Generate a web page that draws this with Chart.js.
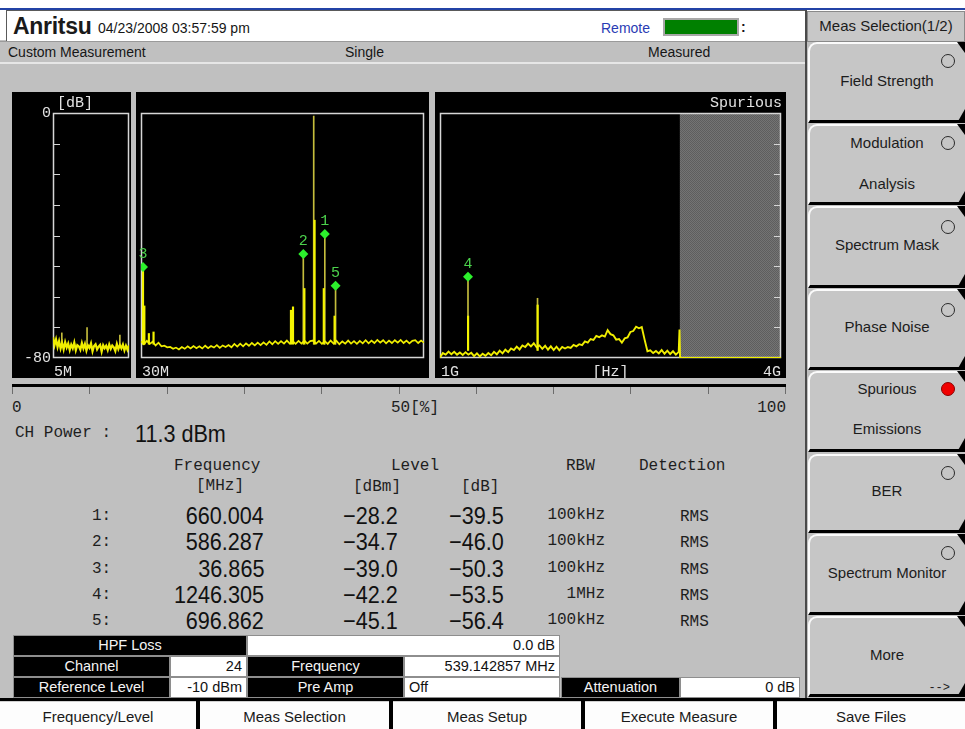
<!DOCTYPE html>
<html>
<head>
<meta charset="utf-8">
<title>Spurious Emissions</title>
<script src="https://cdn.jsdelivr.net/npm/chart.js"></script>
<style>
html,body{margin:0;padding:0}
body{width:965px;height:729px;position:relative;overflow:hidden;background:#c0c0c0;font-family:"Liberation Sans",Arial,sans-serif;color:#161616}
.a{position:absolute;white-space:nowrap}
.m{font-family:"Liberation Mono","DejaVu Sans Mono",monospace;font-size:16px;color:#1e1e1e}
.s14{font-size:14px}
.s15{font-size:15px;color:#1c1c1c}
.big{font-size:24px;color:#111}
canvas{position:absolute}
.btn{position:absolute;left:808px;width:157px;background:#c6c6c6;border-top:2px solid #fbfbfb;border-left:2px solid #fbfbfb;border-top-left-radius:9px;border-bottom:3px solid #000;box-sizing:border-box}
.btn:before{content:"";position:absolute;right:0;top:-2px;width:8px;height:11px;background:#000;clip-path:polygon(0 0,100% 0,100% 100%)}
.btn:after{content:"";position:absolute;right:0;bottom:-3px;width:8px;height:14px;background:#000;clip-path:polygon(100% 0,100% 100%,0 100%)}
.radio{position:absolute;width:12px;height:12px;border:1px solid #2a2a2a;border-radius:50%}
.cell{position:absolute;box-sizing:border-box;border:1px solid #8e8e8e;font-size:14.5px;padding:0 4px}
.dark{background:#000;color:#f4f4f4;text-align:center}
.lite{background:#fff;color:#111}
.bb{position:absolute;top:701px;height:28px;background:#fdfdfd;border-top:1px solid #d0d0d0;box-sizing:border-box;text-align:center;line-height:29px;font-size:15px;color:#1a1a1a}
</style>
</head>
<body>
<div class="a" style="left:0;top:0;width:965px;height:40px;background:#fff"></div>
<div class="a" style="left:0;top:8px;width:965px;height:2px;background:#2343a6"></div>
<div class="a" style="left:6px;top:10px;width:799px;height:31px;background:#fff;border-left:1px solid #5a5a5a;border-top:1px solid #5a5a5a;box-sizing:border-box"></div>
<div class="a" style="left:0;top:41px;width:806px;height:23px;background:#c0c0c0;border-top:1px solid #9a9a9a;border-bottom:2px solid #e6e6e6;box-sizing:border-box"></div>
<div class="a" style="left:663px;top:18px;width:76px;height:18px;background:#008000;border:2px solid #a8a8a8;box-sizing:border-box"></div>
<div class="a" style="left:805px;top:10px;width:2px;height:690px;background:#4a4a4a"></div>
<div class="a" style="left:807px;top:11px;width:158px;height:31px;background:#c8c8c8;border:1px solid #8a8a8a;box-sizing:border-box"></div>

<canvas id="c1" width="119" height="286" style="left:12px;top:92px"></canvas>
<canvas id="c2" width="293" height="286" style="left:136px;top:92px"></canvas>
<canvas id="c3" width="351" height="286" style="left:435px;top:92px"></canvas>

<div class="a" style="left:12px;top:384px;width:774px;height:3px;background:#000"></div>
<div class="a" style="left:0;top:698px;width:965px;height:31px;background:#000"></div>

<script>
// ---- trace data, 5 MHz .. 30 MHz (relative level, dB)
const p1Freq = [5,5.5,6,6.5,7,7.5,8,8.5,9,9.5,10,10.5,11,11.5,12,12.5,13,13.5,14,14.5,
  15,15.5,16,16.5,17,17.5,18,18.5,19,19.5,20,20.5,21,21.5,22,22.5,23,23.5,24,24.5,
  25,25.5,26,26.5,27,27.5,28,28.5,29,29.5,30];
const p1Level = [-73.2,-75.8,-73.9,-76.4,-74.5,-76.9,-75.1,-77.2,-74.8,-76.6,
  -75.3,-77.4,-75.6,-76.8,-74.9,-77.5,-75.8,-76.2,-77.3,-75.1,
  -76.9,-75.4,-77.6,-75.9,-76.7,-75.2,-77.8,-76.1,-75.5,-77.2,
  -76.3,-75.7,-77.9,-75.8,-76.8,-76.0,-77.4,-75.6,-77.0,-75.9,
  -76.5,-77.7,-75.4,-77.1,-75.8,-76.9,-75.6,-77.5,-76.0,-77.3,-75.9];
const p1PeakFreq = [7.9, 16.2, 27.0];
const p1PeakTop = [-71.8, -70.1, -72.5];

// ---- 30 MHz .. 1000 MHz
const p2Freq = [30,40,50,60,70,80,90,100,110,120,
  130,140,150,160,170,180,190,200,210,220,
  230,240,250,260,270,280,290,300,310,320,
  330,340,350,360,370,380,390,400,410,420,
  430,440,450,460,470,480,490,500,510,520,
  530,540,550,560,570,580,590,600,610,620,
  630,640,650,660,670,680,690,700,710,720,
  730,740,750,760,770,780,790,800,810,820,
  830,840,850,860,870,880,890,900,910,920,
  930,940,950,960,970,980,990,1000];
const p2Level = [-74.5,-75.5,-74.4,-75.4,-74.7,-75.9,-75.0,-76.2,-76.0,-76.5,
  -76.4,-77.0,-76.6,-77.2,-76.4,-77.0,-76.2,-76.9,-76.1,-76.8,
  -76.2,-76.9,-76.0,-76.8,-76.1,-76.6,-75.8,-76.7,-75.9,-76.4,
  -75.8,-76.5,-75.4,-76.3,-75.3,-76.2,-75.2,-76.0,-75.1,-75.9,
  -75.0,-75.8,-74.9,-75.7,-74.6,-75.5,-74.5,-75.4,-74.5,-75.3,
  -74.3,-75.3,-74.5,-75.4,-74.4,-75.3,-74.3,-75.3,-74.5,-74.3,
  -75.3,-74.4,-75.4,-74.5,-75.4,-74.3,-75.3,-74.4,-75.5,-74.6,
  -75.3,-74.3,-75.3,-74.5,-75.4,-74.4,-75.2,-74.2,-75.2,-74.3,
  -75.1,-74.1,-75.0,-74.2,-75.2,-74.3,-75.1,-74.2,-75.0,-74.1,
  -75.1,-74.3,-75.2,-74.4,-74.2,-75.1,-74.3,-75.0];
const p2PeakFreq = [36.865, 586.287, 622, 660.004, 696.862];
const p2PeakTop = [-50.3, -46.0, -1.0, -39.5, -56.4];
const p2LiveFreq = [36.9, 41.5, 57, 73, 544, 551, 590, 625, 656.5, 693.5];
const p2LiveTop = [-50.3, -63.0, -72.0, -71.5, -64.4, -63.3, -57.3, -35.0, -57.3, -66.3];

// ---- 1 GHz .. 4 GHz (MHz)
const p3Freq = [1000,1025,1050,1075,1100,1125,1150,1175,1200,1225,
  1250,1275,1300,1325,1350,1375,1400,1425,1450,1475,
  1500,1525,1550,1575,1600,1625,1650,1675,1700,1725,
  1750,1775,1800,1825,1850,1875,1900,1925,1950,1975,
  2000,2025,2050,2075,2100,2125,2150,2175,2200,2225,
  2250,2275,2300,2325,2350,2375,2400,2425,2450,2475,
  2500,2525,2550,2575,2600,2625,2650,2675,2700,2725,
  2750,2775,2800,2825,2850,2875,2900,2925,2950,2975,
  3000,3025,3050,3075,3100,3107,3112,4000];
const p3Level = [-79.8,-78.4,-78.9,-77.9,-78.8,-78.0,-78.9,-78.2,-79.0,-78.1,
  -78.9,-78.3,-79.4,-78.5,-79.5,-78.6,-79.3,-78.4,-79.1,-78.0,
  -78.8,-77.6,-78.5,-77.3,-78.1,-76.9,-77.4,-76.3,-77.2,-75.9,
  -76.4,-75.3,-76.2,-75.2,-76.5,-75.9,-77.0,-76.0,-77.3,-76.2,
  -77.4,-76.3,-77.5,-76.4,-76.9,-76.4,-76.7,-75.7,-76.2,-75.5,
  -75.8,-74.6,-75.0,-73.8,-74.1,-72.8,-73.2,-72.6,-73.0,-70.9,
  -72.2,-72.6,-74.0,-73.8,-75.0,-73.6,-73.3,-71.5,-71.2,-69.8,
  -70.3,-69.9,-74.0,-77.8,-77.5,-78.4,-77.7,-78.5,-77.4,-78.6,
  -77.6,-78.7,-77.8,-78.9,-78.0,-70.7,-80.0,-80.0];
const p3PeakFreq = [1246.305, 1858];
const p3PeakTop = [-53.5, -60.5];
const p3LiveFreq = [1247, 1859];
const p3LiveTop = [-66.3, -62.7];
const p3SweepStop = 3110;

// ---- markers / result table
const markerFreq = [660.004, 586.287, 36.865, 1246.305, 696.862];
const markerDbm = [-28.2, -34.7, -39.0, -42.2, -45.1];
const markerDb = [-39.5, -46.0, -50.3, -53.5, -56.4];
const markerRbw = ['100kHz', '100kHz', '100kHz', '1MHz', '100kHz'];
const markerDet = ['RMS', 'RMS', 'RMS', 'RMS', 'RMS'];
const chPower = 11.3;
const dbTicks = [0, -10, -20, -30, -40, -50, -60, -70, -80];

function put(s, x, cy, cls, al, h) {
  const d = document.createElement('div');
  h = h || 22;
  d.className = 'a ' + (cls || '');
  d.textContent = s;
  d.style.top = (cy - h / 2) + 'px';
  d.style.height = h + 'px';
  d.style.lineHeight = h + 'px';
  if (al === 'r') { d.style.right = (965 - x) + 'px'; d.style.transformOrigin = 'right center'; }
  else if (al === 'c') { d.style.left = x + 'px'; d.style.transform = 'translateX(-50%)'; }
  else { d.style.left = x + 'px'; d.style.transformOrigin = 'left center'; }
  document.body.appendChild(d);
  return d;
}
const minus = v => (v < 0 ? '\u2212' : '') + Math.abs(v).toFixed(1);

// hatched pattern for the unswept part
const pc = document.createElement('canvas');
pc.width = 2; pc.height = 2;
const pcx = pc.getContext('2d');
pcx.fillStyle = '#5e5e5e'; pcx.fillRect(0, 0, 2, 2);
pcx.fillStyle = '#747474'; pcx.fillRect(0, 0, 1, 1); pcx.fillRect(1, 1, 1, 1);

const deco = {
  id: 'deco',
  beforeDatasetsDraw(chart, args, o) {
    const ctx = chart.ctx, a = chart.chartArea, x = chart.scales.x, y = chart.scales.y;
    ctx.save();
    if (o.sweepStop) {
      const xs = x.getPixelForValue(o.sweepStop);
      ctx.fillStyle = ctx.createPattern(pc, 'repeat');
      ctx.fillRect(xs, a.top, a.right - xs, a.bottom - a.top);
    }
    ctx.strokeStyle = '#d6d6d6';
    ctx.lineWidth = 1.5;
    ctx.strokeRect(a.left + 0.5, a.top + 0.5, a.right - a.left - 1, a.bottom - a.top - 1);
    ctx.lineWidth = 1;
    dbTicks.slice(1, -1).forEach(v => {
      const py = Math.round(y.getPixelForValue(v)) + 0.5;
      ctx.beginPath();
      if (o.ticks === 'left') { ctx.moveTo(a.left, py); ctx.lineTo(a.left + 7, py); }
      if (o.ticks === 'right') { ctx.moveTo(a.right - 7, py); ctx.lineTo(a.right, py); }
      ctx.stroke();
    });
    ctx.fillStyle = '#e2e2e2';
    ctx.font = '15px "Liberation Mono", "DejaVu Sans Mono", monospace';
    ctx.textBaseline = 'middle';
    const ty = a.bottom + 14, hy = a.top - 10;
    if (o.yLabels) {
      ctx.textAlign = 'right';
      ctx.fillText(String(dbTicks[0]), a.left - 2, y.getPixelForValue(dbTicks[0]));
      ctx.fillText(String(dbTicks[dbTicks.length - 1]), a.left - 2, y.getPixelForValue(dbTicks[dbTicks.length - 1]));
    }
    if (o.tl) { ctx.textAlign = 'left'; ctx.fillText(o.tl, a.left + 4, hy); }
    if (o.tr) { ctx.textAlign = 'right'; ctx.fillText(o.tr, a.right + 1, hy); }
    if (o.bl) { ctx.textAlign = 'left'; ctx.fillText(o.bl, a.left + 1, ty); }
    if (o.bc) { ctx.textAlign = 'center'; ctx.fillText(o.bc, (a.left + a.right) / 2, ty); }
    if (o.br) { ctx.textAlign = 'right'; ctx.fillText(o.br, a.right, ty); }
    ctx.restore();
  },
  afterDatasetsDraw(chart) {
    const ctx = chart.ctx, meta = chart.getDatasetMeta(0);
    ctx.save();
    ctx.fillStyle = '#4cd24c';
    ctx.font = '15px "Liberation Mono", "DejaVu Sans Mono", monospace';
    ctx.textAlign = 'center';
    ctx.textBaseline = 'middle';
    meta.data.forEach((pt, i) => {
      ctx.fillText(String(chart.data.datasets[0].data[i].n), pt.x, pt.y - 13);
    });
    ctx.restore();
  }
};

const pts = (xs, ys) => xs.map((v, i) => ({x: v, y: ys[i]}));
const spikes = (xs, tops, base) => xs.map((v, i) => ({x: v, y: [base, tops[i]]}));

function panel(id, c) {
  const mk = markerFreq.map((f, i) => ({x: f, y: markerDb[i], n: i + 1}))
    .filter(p => p.x >= c.xMin && p.x <= c.xMax);
  return new Chart(document.getElementById(id), {
    type: 'line',
    data: {
      datasets: [
        {type: 'scatter', data: mk, pointStyle: 'rectRot', pointRadius: 5,
          backgroundColor: '#2cf02c', borderColor: '#2cf02c', borderWidth: 0},
        {type: 'bar', data: spikes(c.liveF || [], c.liveT || [], c.base),
          backgroundColor: '#f4f400', barThickness: 1.5, grouped: false},
        {data: pts(c.freq, c.level), borderColor: '#f0ee00', borderWidth: c.lw,
          pointRadius: 0, tension: 0},
        {type: 'bar', data: spikes(c.peakF, c.peakT, c.base),
          backgroundColor: '#c4bc3c', barThickness: 1, grouped: false}
      ]
    },
    options: {
      responsive: false, animation: false, devicePixelRatio: 1,
      layout: {padding: c.pad},
      scales: {
        x: {type: 'linear', min: c.xMin, max: c.xMax, display: false, offset: false},
        y: {min: -80, max: 0, display: false}
      },
      plugins: {legend: {display: false}, tooltip: {enabled: false}, deco: c.deco}
    },
    plugins: [deco,
      {id: 'bg', beforeDraw(ch) { ch.ctx.save(); ch.ctx.fillStyle = '#000';
        ch.ctx.fillRect(0, 0, ch.width, ch.height); ch.ctx.restore(); }}]
  });
}

panel('c1', {freq: p1Freq, level: p1Level, peakF: p1PeakFreq, peakT: p1PeakTop, base: -76, lw: 2.2,
  xMin: 5, xMax: 30, pad: {left: 41, right: 2, top: 21, bottom: 20},
  deco: {ticks: 'left', yLabels: true, tl: '[dB]', bl: '5M'}});
panel('c2', {freq: p2Freq, level: p2Level, peakF: p2PeakFreq, peakT: p2PeakTop,
  liveF: p2LiveFreq, liveT: p2LiveTop, base: -75.5, lw: 1.7,
  xMin: 30, xMax: 1000, pad: {left: 3, right: 3, top: 21, bottom: 20},
  deco: {bl: '30M'}});
panel('c3', {freq: p3Freq, level: p3Level, peakF: p3PeakFreq, peakT: p3PeakTop,
  liveF: p3LiveFreq, liveT: p3LiveTop, base: -77.5, lw: 1.9,
  xMin: 1000, xMax: 4000, pad: {left: 2, right: 3, top: 21, bottom: 20},
  deco: {ticks: 'right', tr: 'Spurious', bl: '1G', bc: '[Hz]', br: '4G', sweepStop: p3SweepStop}});

// ---- title / status bars
const logo = put('Anritsu', 13, 26, '', 'l', 26);
logo.style.cssText += ';font-size:23px;font-weight:bold;letter-spacing:-0.3px;color:#1a1a1a';
put('04/23/2008 03:57:59 pm', 98, 28, 's14');
put('Remote', 601, 28, 's14').style.color = '#2a3cb4';
put(':', 741, 27, 's14').style.fontWeight = 'bold';
put('Custom Measurement', 8, 52, 's14');
put('Single', 345, 52, 's14');
put('Measured', 648, 52, 's14');
put('Meas Selection(1/2)', 886, 26, 's15', 'c');

// ---- percentage gauge
for (let i = 0; i <= 10; i++) {
  const t = document.createElement('div');
  t.className = 'a';
  t.style.cssText = 'left:' + Math.round(12 + i * 77.3) + 'px;top:387px;width:1px;height:7px;background:#6c6c6c';
  document.body.appendChild(t);
}
put('0', 12, 408, 'm');
put('50[%]', 391, 408, 'm');
put('100', 786, 408, 'm', 'r');

// ---- channel power + marker table
put('CH Power :', 15, 433, 'm');
put(chPower.toFixed(1) + ' dBm', 135, 434, 'big').style.transform = 'scaleX(0.9)';
put('Frequency', 174, 466, 'm');
put('[MHz]', 196, 486, 'm');
put('Level', 391, 466, 'm');
put('[dBm]', 353, 487, 'm');
put('[dB]', 461, 487, 'm');
put('RBW', 566, 466, 'm');
put('Detection', 639, 466, 'm');
markerFreq.forEach((f, i) => {
  const cy = 516 + i * 26.3;
  put((i + 1) + ':', 92, cy, 'm');
  put(f.toFixed(3), 264, cy, 'big', 'r').style.transform = 'scaleX(0.9)';
  put(minus(markerDbm[i]), 398, cy, 'big', 'r').style.transform = 'scaleX(0.9)';
  put(minus(markerDb[i]), 504, cy, 'big', 'r').style.transform = 'scaleX(0.9)';
  put(markerRbw[i], 605, cy - 1, 'm', 'r');
  put(markerDet[i], 680, cy + 1, 'm');
});

// ---- settings table
function cell(x, y, w, h, s, dark, al) {
  const d = document.createElement('div');
  d.className = 'cell ' + (dark ? 'dark' : 'lite');
  d.style.cssText += ';left:' + x + 'px;top:' + y + 'px;width:' + w + 'px;height:' + h + 'px;line-height:' + (h - 2) + 'px';
  if (!dark) d.style.textAlign = al || 'right';
  d.textContent = s;
  document.body.appendChild(d);
}
cell(13, 635, 234, 21, 'HPF Loss', true);
cell(247, 635, 313, 21, '0.0 dB', false);
cell(13, 656, 157, 21, 'Channel', true);
cell(170, 656, 77, 21, '24', false);
cell(247, 656, 157, 21, 'Frequency', true);
cell(404, 656, 156, 21, '539.142857 MHz', false);
cell(13, 677, 157, 21, 'Reference Level', true);
cell(170, 677, 77, 21, '-10 dBm', false);
cell(247, 677, 157, 21, 'Pre Amp', true);
cell(404, 677, 156, 21, 'Off', false, 'left');
cell(561, 677, 119, 21, 'Attenuation', true);
cell(680, 677, 120, 21, '0 dB', false);

// ---- soft keys
const softKeys = [
  {top: 42, h: 81, lines: [['Field Strength', 81]], radio: 61},
  {top: 124, h: 81, lines: [['Modulation', 143]], extra: [['Analysis', 184]], radio: 143},
  {top: 206, h: 82, lines: [['Spectrum Mask', 245]], radio: 227},
  {top: 289, h: 81, lines: [['Phase Noise', 327]], radio: 310},
  {top: 371, h: 81, lines: [['Spurious', 389]], extra: [['Emissions', 429]], radio: 389, on: true},
  {top: 454, h: 79, lines: [['BER', 491]], radio: 473},
  {top: 534, h: 81, lines: [['Spectrum Monitor', 573]], radio: 553},
  {top: 616, h: 81, lines: [['More', 655]]}
];
softKeys.forEach(k => {
  const b = document.createElement('div');
  b.className = 'btn';
  b.style.top = k.top + 'px';
  b.style.height = k.h + 'px';
  document.body.appendChild(b);
  k.lines.concat(k.extra || []).forEach(l => put(l[0], 887, l[1], 's15', 'c'));
  if (k.radio) {
    const r = document.createElement('div');
    r.className = 'radio';
    r.style.left = '941px';
    r.style.top = (k.radio - 7) + 'px';
    if (k.on) { r.style.background = '#f00000'; r.style.borderColor = '#8a0000'; }
    document.body.appendChild(r);
  }
});
put('-->', 950, 688, 'm', 'r').style.fontSize = '12px';

// ---- bottom function keys
[['Frequency/Level', 0, 196], ['Meas Selection', 200, 189], ['Meas Setup', 393, 188],
 ['Execute Measure', 585, 188], ['Save Files', 777, 188]].forEach(k => {
  const d = document.createElement('div');
  d.className = 'bb';
  d.style.left = k[1] + 'px';
  d.style.width = k[2] + 'px';
  d.textContent = k[0];
  document.body.appendChild(d);
});
</script>
</body>
</html>
